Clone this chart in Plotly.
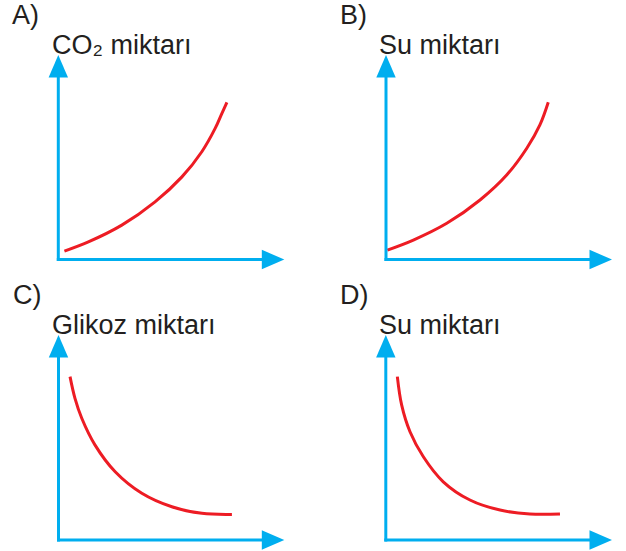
import plotly.graph_objects as go

W, H = 626, 551

# Panel letters and y-axis titles
letters = ["A)", "B)", "C)", "D)"]
titles = ["CO₂ miktarı", "Su miktarı", "Glikoz miktarı", "Su miktarı"]

# Curve values (axis units 0-10 on both axes)
a_x = [0.27, 1.33, 2.81, 4.28, 5.47, 6.35, 6.94, 7.24, 7.46]
a_y = [0.41, 0.86, 1.68, 2.82, 4.04, 5.27, 6.41, 7.15, 7.68]

b_x = [0.06, 1.21, 2.69, 4.16, 5.34, 6.23, 6.81, 7.18]
b_y = [0.46, 0.95, 1.77, 2.91, 4.13, 5.44, 6.58, 7.69]

c_x = [0.51, 0.73, 1.03, 1.62, 2.51, 3.69, 5.02, 6.35, 7.68]
c_y = [7.97, 6.91, 5.94, 4.63, 3.33, 2.28, 1.62, 1.30, 1.25]

d_x = [0.51, 0.70, 1.07, 1.66, 2.54, 3.72, 5.05, 6.37, 7.70]
d_y = [7.97, 6.59, 5.28, 4.06, 2.84, 1.95, 1.46, 1.27, 1.27]

series = [(a_x, a_y), (b_x, b_y), (c_x, c_y), (d_x, d_y)]

# Pixel frame of each panel: origin and arrow tips
frames = [
    dict(ox=58.3, oy=259.5, xtip=284.3, ytip=55.0),
    dict(ox=386.0, oy=259.5, xtip=612.0, ytip=55.0),
    dict(ox=58.5, oy=540.0, xtip=284.3, ytip=335.0),
    dict(ox=385.8, oy=540.0, xtip=612.0, ytip=335.0),
]

AXIS_BLUE = "#00aeef"
CURVE_RED = "#ed1c24"
TEXT = "#231f20"
FONT = "Liberation Sans, Arial, sans-serif"
FONT_SIZE = 27
ASCENT = 0.905 * FONT_SIZE
HEAD_LEN, HEAD_HALF = 22.5, 9.7


def fx(px):
    return px / W


def fy(py):
    return 1 - py / H


fig = go.Figure()
layout = dict(
    width=W, height=H,
    margin=dict(l=0, r=0, t=0, b=0),
    paper_bgcolor="white", plot_bgcolor="rgba(0,0,0,0)",
    showlegend=False,
    shapes=[], annotations=[],
)

for i, (fr, (xs, ys)) in enumerate(zip(frames, series)):
    n = "" if i == 0 else str(i + 1)
    ox, oy, xt, yt = fr["ox"], fr["oy"], fr["xtip"], fr["ytip"]
    layout["xaxis" + n] = dict(domain=[fx(ox), fx(xt)], range=[0, 10], visible=False,
                               anchor="y" + n, fixedrange=True)
    layout["yaxis" + n] = dict(domain=[fy(oy), fy(yt)], range=[0, 10], visible=False,
                               anchor="x" + n, fixedrange=True)

    fig.add_trace(go.Scatter(
        x=xs, y=ys, mode="lines", xaxis="x" + n, yaxis="y" + n,
        line=dict(color=CURVE_RED, width=3, shape="spline", smoothing=1.0),
        hoverinfo="skip",
    ))

    # axis lines
    layout["shapes"].append(dict(type="line", xref="paper", yref="paper",
                                 x0=fx(ox - 1.5), y0=fy(oy), x1=fx(xt - 12), y1=fy(oy),
                                 line=dict(color=AXIS_BLUE, width=3)))
    layout["shapes"].append(dict(type="line", xref="paper", yref="paper",
                                 x0=fx(ox), y0=fy(oy + 1.5), x1=fx(ox), y1=fy(yt + 12),
                                 line=dict(color=AXIS_BLUE, width=3)))
    # arrowheads
    hx = (f"M{fx(xt)},{fy(oy)} L{fx(xt - HEAD_LEN)},{fy(oy - HEAD_HALF)} "
          f"L{fx(xt - HEAD_LEN)},{fy(oy + HEAD_HALF)} Z")
    hy = (f"M{fx(ox)},{fy(yt)} L{fx(ox - HEAD_HALF)},{fy(yt + HEAD_LEN)} "
          f"L{fx(ox + HEAD_HALF)},{fy(yt + HEAD_LEN)} Z")
    for p in (hx, hy):
        layout["shapes"].append(dict(type="path", xref="paper", yref="paper", path=p,
                                     fillcolor=AXIS_BLUE, line=dict(width=0)))

    # letter and axis title (positioned from text baselines)
    letter_base = oy - 236.5
    title_base = yt - 1.7
    layout["annotations"].append(dict(
        text=letters[i], xref="paper", yref="paper",
        x=fx(ox - 47), y=fy(letter_base - ASCENT), xanchor="left", yanchor="top",
        showarrow=False, borderpad=0, font=dict(family=FONT, size=FONT_SIZE, color=TEXT)))
    layout["annotations"].append(dict(
        text=titles[i], xref="paper", yref="paper",
        x=fx(ox - 7.8), y=fy(title_base - ASCENT), xanchor="left", yanchor="top",
        showarrow=False, borderpad=0, font=dict(family=FONT, size=FONT_SIZE, color=TEXT)))

fig.update_layout(**layout)
fig.write_html("out.html")
